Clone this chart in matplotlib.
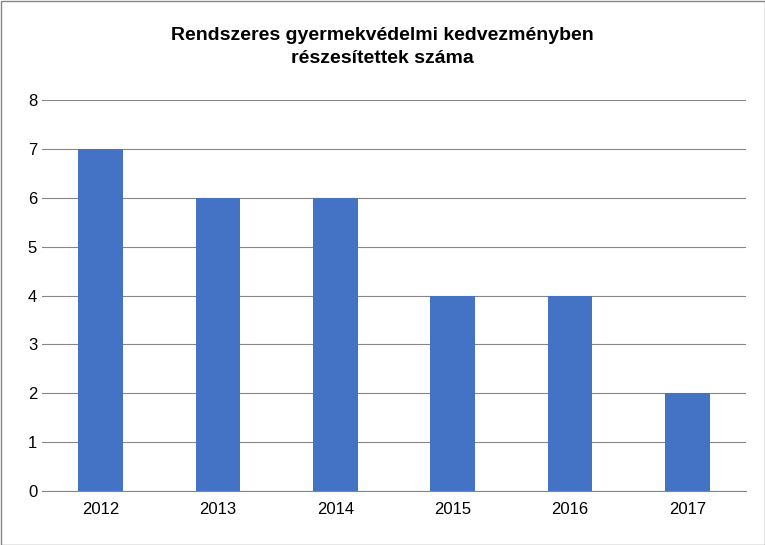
import matplotlib
matplotlib.use("Agg")
import matplotlib.pyplot as plt

years = ["2012", "2013", "2014", "2015", "2016", "2017"]
values = [7, 6, 6, 4, 4, 2]

plt.rcParams['font.family'] = ['Liberation Sans', 'DejaVu Sans']
fig = plt.figure(figsize=(7.65, 5.45), dpi=100)
ax = fig.add_axes([42/765, 1-491/545, (746-42)/765, (491-100)/545])
ax.bar(range(len(years)), values, width=0.38, color='#4472C4', zorder=3)
ax.set_xlim(-0.5, len(years)-0.5)
ax.set_ylim(0, 8)
ax.set_yticks(range(0, 9))
ax.set_xticks(range(len(years)))
ax.set_xticklabels(years)
ax.tick_params(axis='both', labelsize=12, length=0)
ax.tick_params(axis='x', pad=8)
ax.grid(axis='y', color='#868686', linewidth=0.8, zorder=0)
for s in ['top', 'right', 'left']:
    ax.spines[s].set_visible(False)
ax.spines['bottom'].set_color('#868686')
fig.text(0.5, 1-47/545, "Rendszeres gyermekvédelmi kedvezményben\nrészesítettek száma",
         ha='center', va='center', fontsize=14, fontweight='bold', linespacing=1.5)
fig.patches.append(plt.Rectangle((0.5/765, 0.5/545), 1-1/765, 1-1/545, transform=fig.transFigure,
                                 fill=False, edgecolor='#868686', linewidth=1))
fig.savefig("out.png")
